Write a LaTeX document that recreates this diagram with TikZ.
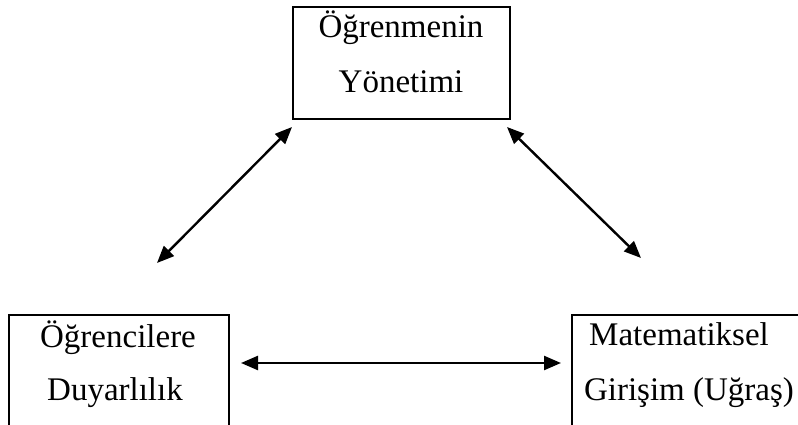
\documentclass[tikz,border=0pt]{standalone}
\usepackage{fontspec}
\setmainfont{Liberation Serif}
\usetikzlibrary{arrows.meta}
\begin{document}
\begin{tikzpicture}[x=1pt,y=-1pt,
  boxframe/.style={draw=black,line width=2.4pt},
  lbl/.style={anchor=base,inner sep=0pt,font=\fontsize{33}{40}\selectfont},
  link/.style={line width=2.4pt,{Triangle[length=17pt,width=14pt]}-{Triangle[length=17pt,width=14pt]}}]
  \useasboundingbox (0,0) rectangle (798,425);
  \clip (0,0) rectangle (798,425);
  % frames
  \draw[boxframe] (293,7) rectangle (510,119);
  \draw[boxframe] (229,440) -- (229,315) -- (9,315) -- (9,440);
  \draw[boxframe] (572,440) -- (572,315) -- (812,315);
  % box texts
  \node[lbl] (t1) at (401,38) {Öğrenmenin};
  \node[lbl] (t2) at (401,93) {Yönetimi};
  \node[lbl] (l1) at (118,347) {Öğrencilere};
  \node[lbl] (l2) at (115,400) {Duyarlılık};
  \node[lbl] (r1) at (679,345) {Matematiksel};
  \node[lbl] (r2) at (689,400) {Girişim (Uğraş)};
  % arrow ends
  \coordinate (topL) at (292,127);
  \coordinate (topR) at (507,127);
  \coordinate (midL) at (157,263);
  \coordinate (midR) at (641,258);
  \coordinate (botL) at (241,363);
  \coordinate (botR) at (561,363);
  % connectors
  \draw[link] (midL) -- (topL);
  \draw[link] (topR) -- (midR);
  \draw[link] (botL) -- (botR);
\end{tikzpicture}
\end{document}
